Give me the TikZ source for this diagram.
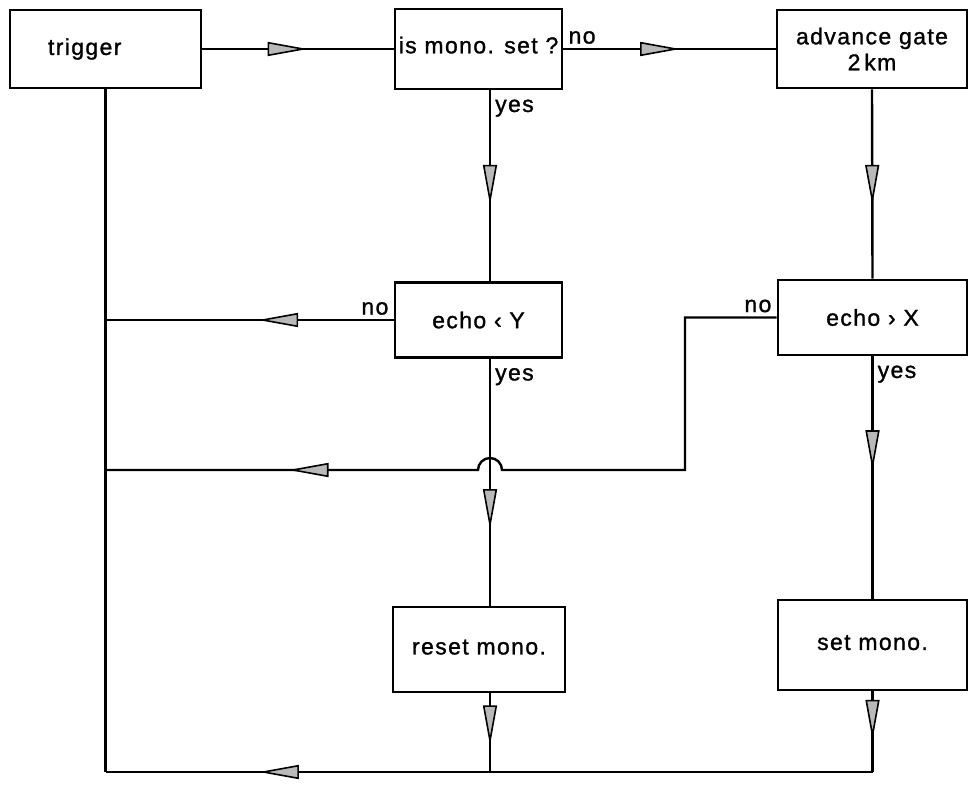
\documentclass[tikz,border=0pt]{standalone}
\usepackage{fontspec}
\setmainfont{Liberation Sans}[LetterSpace=6, FakeBold=1.2]
\usetikzlibrary{arrows.meta, decorations.markings}

\tikzset{
  box/.style={draw, line width=2.8pt, align=center, inner sep=2pt},
  lbl/.style={inner sep=4pt},
  midarrow/.style={postaction={decorate, decoration={markings,
      mark=at position #1 with {\arrow{Triangle[length=40pt, width=14pt, fill=gray!55, line width=1.6pt]}}}}}
}

\begin{document}
\begin{tikzpicture}[x=1pt, y=-1pt, line width=2.4pt, font=\fontsize{23}{26}\selectfont]
  \useasboundingbox (0,0) rectangle (969,787);

  % boxes
  \node[box, minimum width=191, minimum height=78, text width=115, align=left] (trigger) at (105.5,49) {\raisebox{4pt}{trigger}};
  \node[box, minimum width=167, minimum height=80] (ismono) at (478.5,49) {\raisebox{8pt}{is mono. set ?}};
  \node[box, minimum width=190, minimum height=78] (advance) at (872,49) {advance gate\\2\,km};
  \node[box, minimum width=167, minimum height=75] (echoY) at (478.5,320) {echo ‹ Y};
  \node[box, minimum width=189, minimum height=75] (echoX) at (872.5,317.5) {echo › X};
  \node[box, minimum width=172, minimum height=85] (reset) at (479,649.5) {\raisebox{5pt}{reset mono.}};
  \node[box, minimum width=189, minimum height=90] (setmono) at (872.5,645) {\raisebox{5pt}{set mono.}};

  % helper points
  \coordinate (colB) at (490,0);
  \coordinate (jog) at (685,470);
  \coordinate (hopR) at (502,470);
  \coordinate (backA) at (105.5,470);
  \coordinate (botA) at (105.5,772);
  \coordinate (botB) at (490,772);
  \coordinate (botC) at (872.5,772);

  % connectors
  \draw[midarrow=0.55] (trigger.east) -- (ismono.west);
  \draw[midarrow=0.55] (ismono.east) -- node[lbl, pos=0, above right] {no} (advance.west);
  \draw[midarrow=0.6] (ismono.south -| colB) -- node[lbl, pos=0, below right, yshift=-4pt] {yes} (echoY.north -| colB);
  \draw[midarrow=0.61] (advance.south) -- (echoX.north);
  \draw[midarrow=0.47] (echoY.west) -- node[lbl, pos=0, above left] {no} (echoY.west -| trigger.south);
  \draw[midarrow=0.69] (echoY.south -| colB) -- node[lbl, pos=0, below right, yshift=-4pt] {yes} (reset.north -| colB);
  \draw[midarrow=-183pt] (echoX.west) -| (jog) -- (hopR)
    arc[start angle=0, end angle=-180, radius=12] -- (backA);
  \node[lbl, above left] at (echoX.west) {no};
  \draw[midarrow=0.47] (echoX.south) -- node[lbl, pos=0, below right, yshift=-4pt] {yes} (setmono.north);
  \draw[midarrow=0.66] (reset.south -| colB) -- (botB);
  \draw[midarrow=0.6] (setmono.south) -- (botC);
  \draw[midarrow=0.8] (botC) -- (botA);
  \draw (trigger.south) -- (botA);
\end{tikzpicture}
\end{document}
